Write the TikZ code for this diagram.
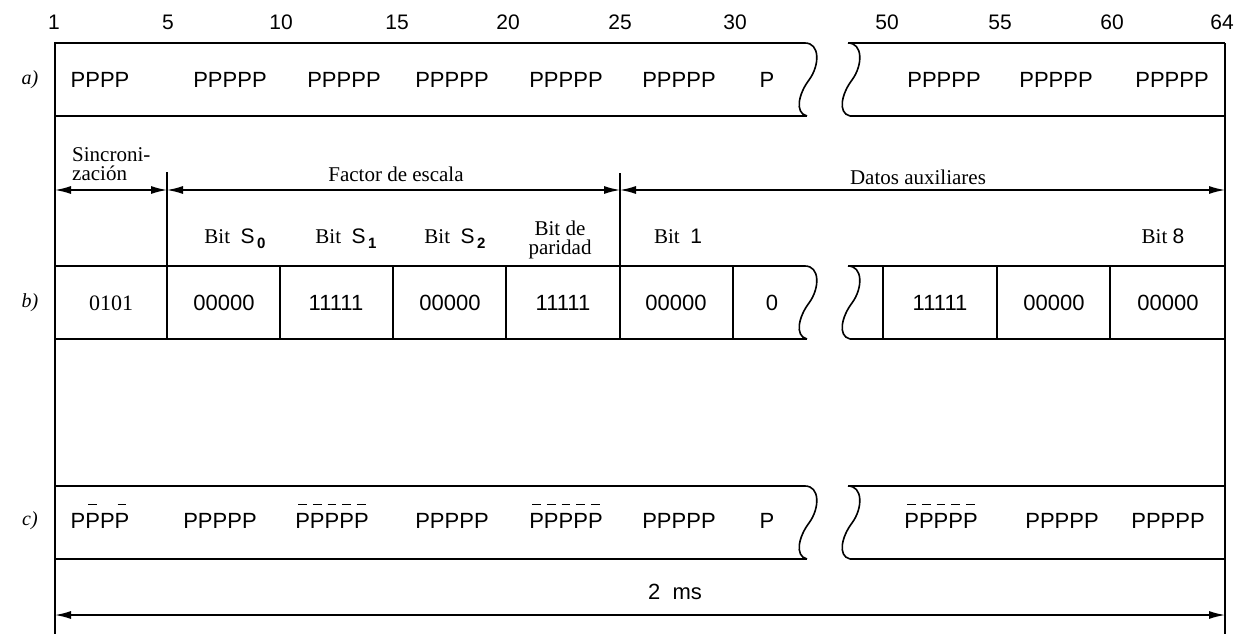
\documentclass[tikz,border=0pt]{standalone}
\usepackage{fontspec}
\setmainfont{Liberation Serif}
\newfontfamily\hsans{Liberation Sans}
\usetikzlibrary{arrows.meta}
\newcommand\ob[1]{\ooalign{#1\cr\hidewidth\raisebox{1.05em}{\rule{0.4em}{1.5pt}}\hidewidth\cr}}
\newcommand\bsub[1]{\hspace{0.12em}\raisebox{-0.28em}{\fontsize{15}{15}\selectfont\hsans\bfseries #1}}
\tikzset{
  ln/.style={line width=1.6pt},
  dim/.style={line width=1.4pt,{Latex[length=16pt,width=8pt]}-{Latex[length=16pt,width=8pt]}},
  pp/.style={font=\hsans\fontsize{22}{26}\selectfont,inner sep=0pt},
  cell/.style={font=\hsans\fontsize{22}{26}\selectfont,inner sep=0pt},
  num/.style={font=\hsans\fontsize{21}{24}\selectfont,inner sep=0pt},
  ser/.style={font=\fontsize{21}{19}\selectfont,inner sep=0pt,align=center},
  rowlab/.style={font=\itshape\fontsize{20}{24}\selectfont,inner sep=0pt},
  wave/.pic={\draw[ln] (0,0) .. controls (15,0) and (15,22) .. (4,37) .. controls (-6,50) and (-11,70) .. (2,73);}
}
\begin{document}
\begin{tikzpicture}[x=1pt,y=-1pt]
\useasboundingbox (0,0) rectangle (1249,634);
% main verticals
\coordinate (L0) at (55,42); \coordinate (L1) at (55,634);
\coordinate (R0) at (1225,43); \coordinate (R1) at (1225,634);
\draw[ln] (L0) -- (L1);
\draw[ln] (R0) -- (R1);
% rows a, b, c
\foreach \y in {43,266,486}{
  \draw[ln] (55,\y) -- (805,\y);
  \draw[ln] (55,\y+73) -- (807,\y+73);
  \pic at (805,\y) {wave};
  \draw[ln] (848,\y) -- (1225,\y);
  \draw[ln] (850,\y+73) -- (1225,\y+73);
  \pic at (848,\y) {wave};
}
% row b dividers
\draw[ln] (167,172) -- (167,339);
\draw[ln] (620,173) -- (620,339);
\foreach \x in {280,393,506,733,883,997,1110}{\draw[ln] (\x,266) -- (\x,339);}
% dimension arrows
\coordinate (s0) at (55,190); \coordinate (s1) at (167,190);
\coordinate (s2) at (620,190); \coordinate (s3) at (1225,190);
\draw[dim] (s0) -- (s1);
\draw[dim] (s1) -- (s2);
\draw[dim] (s2) -- (s3);
\coordinate (t0) at (55,615); \coordinate (t1) at (1225,615);
\draw[dim] (t0) -- (t1);
% top numbers
\foreach \x/\t [count=\i] in {54/1,168/5,281/10,397/15,508/20,620/25,735/30,887/50,1000/55,1112/60,1222/64}{
  \node[num] (n\i) at (\x,22) {\t};
}
% row labels
\node[rowlab] (la) at (30,80) {a)};
\node[rowlab] (lb) at (30,303) {b)};
\node[rowlab] (lc) at (30,521) {c)};
% row a
\node[pp] (a1) at (100,80) {PPPP};
\node[pp] (a2) at (230,80) {PPPPP};
\node[pp] (a3) at (344,80) {PPPPP};
\node[pp] (a4) at (452,80) {PPPPP};
\node[pp] (a5) at (566,80) {PPPPP};
\node[pp] (a6) at (679,80) {PPPPP};
\node[pp] (a7) at (767,80) {P};
\node[pp] (a8) at (944,80) {PPPPP};
\node[pp] (a9) at (1056,80) {PPPPP};
\node[pp] (a10) at (1172,80) {PPPPP};
% row b labels
\node[ser,anchor=west,align=left] (sync) at (72,164) {Sincroni-\\zación};
\node[ser] (fac) at (396,174) {Factor de escala};
\node[ser] (dat) at (918,177) {Datos auxiliares};
\node[ser,anchor=base] (b0) at (235,243) {Bit~~{\hsans S}\bsub{0}};
\node[ser,anchor=base] (b1) at (346,243) {Bit~~{\hsans S}\bsub{1}};
\node[ser,anchor=base] (b2) at (455,243) {Bit~~{\hsans S}\bsub{2}};
\node[ser] (bp) at (560,240) {Bit de\\paridad};
\node[ser,anchor=base] (bb1) at (678,243) {Bit~~{\hsans 1}};
\node[ser,anchor=base] (bb8) at (1163,243) {Bit {\hsans 8}};
% row b cells
\node[ser,font=\fontsize{22}{26}\selectfont] (c0) at (111,303) {0101};
\node[cell] (c1) at (224,303) {00000};
\node[cell] (c2) at (336,303) {11111};
\node[cell] (c3) at (450,303) {00000};
\node[cell] (c4) at (563,303) {11111};
\node[cell] (c5) at (676,303) {00000};
\node[cell] (c6) at (772,303) {0};
\node[cell] (c7) at (940,303) {11111};
\node[cell] (c8) at (1054,303) {00000};
\node[cell] (c9) at (1168,303) {00000};
% row c
\node[pp] (p1) at (100,521) {P\ob{P}P\ob{P}};
\node[pp] (p2) at (220,521) {PPPPP};
\node[pp] (p3) at (332,521) {\ob{P}\ob{P}\ob{P}\ob{P}\ob{P}};
\node[pp] (p4) at (452,521) {PPPPP};
\node[pp] (p5) at (566,521) {\ob{P}\ob{P}\ob{P}\ob{P}\ob{P}};
\node[pp] (p6) at (679,521) {PPPPP};
\node[pp] (p7) at (767,521) {P};
\node[pp] (p8) at (941,521) {\ob{P}\ob{P}\ob{P}\ob{P}\ob{P}};
\node[pp] (p9) at (1062,521) {PPPPP};
\node[pp] (p10) at (1168,521) {PPPPP};
\node[pp] (ms) at (675,592) {2~~ms};
\end{tikzpicture}
\end{document}
